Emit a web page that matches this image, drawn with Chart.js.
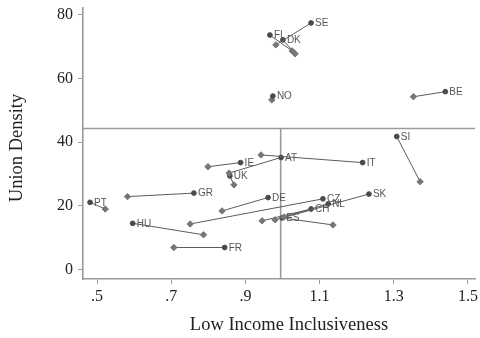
<!DOCTYPE html>
<html>
<head>
<meta charset="utf-8">
<script src="https://cdn.jsdelivr.net/npm/chart.js@4"></script>
<style>
    html, body { margin: 0; padding: 0; background: #fff; }
    #wrap { width: 480px; height: 338px; }
</style>
</head>
<body>
<div id="wrap"><canvas id="chart" width="480" height="338"></canvas></div>
<script>
// Countries, labelled at the later (round) point
const countries = ['SE', 'FI', 'DK', 'NO', 'BE', 'SI', 'IT', 'AT', 'IE', 'UK',
                   'GR', 'PT', 'DE', 'CZ', 'NL', 'SK', 'CH', 'ES', 'HU', 'FR'];

// Earlier observation (diamond markers)
const inclusivenessStart = [0.982, 1.026, 1.034, 0.971, 1.353, 1.371, 0.942, 0.856, 0.799, 0.869,
                            0.582, 0.522, 0.837, 0.751, 1.004, 0.980, 0.945, 1.136, 0.787, 0.707];
const densityStart = [70.6, 68.7, 67.8, 53.3, 54.3, 27.6, 36.0, 30.3, 32.3, 26.6,
                      22.9, 19.0, 18.4, 14.3, 16.5, 15.6, 15.3, 14.0, 10.9, 6.9];

// Later observation (round dots)
const inclusivenessEnd = [1.077, 0.966, 1.001, 0.974, 1.439, 1.308, 1.216, 0.996, 0.887, 0.858,
                          0.761, 0.481, 0.961, 1.109, 1.123, 1.233, 1.077, 0.999, 0.596, 0.844];
const densityEnd = [77.5, 73.7, 72.2, 54.5, 55.9, 41.8, 33.6, 35.2, 33.6, 29.4,
                    24.0, 21.1, 22.6, 22.2, 20.6, 23.7, 19.0, 16.2, 14.5, 6.9];

// Reference lines (quadrant cross)
const refInclusiveness = 0.995;
const refDensity = 44.3;

// Axis ticks
const xTicks = [0.5, 0.7, 0.9, 1.1, 1.3, 1.5];
const yTicks = [0, 20, 40, 60, 80];

const X_MIN = 0.462, X_MAX = 1.519;
const Y_MIN = -3.0, Y_MAX = 82.2;

const axisGray = '#9a9a9a';
const serif = "'Liberation Serif', 'DejaVu Serif', serif";

// Build one two-point dataset per country
const pairDatasets = countries.map((c, i) => ({
    label: c,
    data: [
        { x: inclusivenessStart[i], y: densityStart[i] },
        { x: inclusivenessEnd[i], y: densityEnd[i] }
    ],
    showLine: true,
    borderColor: '#5c5c5c',
    borderWidth: 1,
    pointStyle: ['rectRot', 'circle'],
    pointRadius: [3.2, 2.4],
    pointBackgroundColor: ['#767676', '#4a4a4a'],
    pointBorderColor: ['#767676', '#4a4a4a'],
    pointBorderWidth: 1,
    order: 1
}));

const refDatasets = [
    {
        label: 'ref-h',
        data: [{ x: X_MIN, y: refDensity }, { x: X_MAX, y: refDensity }],
        showLine: true,
        borderColor: axisGray,
        borderWidth: 1.6,
        pointRadius: 0,
        order: 10
    },
    {
        label: 'ref-v',
        data: [{ x: refInclusiveness, y: Y_MIN }, { x: refInclusiveness, y: refDensity }],
        showLine: true,
        borderColor: axisGray,
        borderWidth: 1.6,
        pointRadius: 0,
        order: 10
    }
];

// Country labels + axis titles
const labelPlugin = {
    id: 'countryLabels',
    afterDatasetsDraw(chart) {
        const ctx = chart.ctx;
        const xs = chart.scales.x;
        const ys = chart.scales.y;
        ctx.save();
        ctx.font = "10px 'Liberation Sans', Arial, sans-serif";
        ctx.fillStyle = '#555';
        ctx.textAlign = 'left';
        ctx.textBaseline = 'middle';
        countries.forEach((c, i) => {
            const px = xs.getPixelForValue(inclusivenessEnd[i]);
            const py = ys.getPixelForValue(densityEnd[i]);
            ctx.fillText(c, px + 4, py + 0.5);
        });

        // axis titles
        ctx.font = '18.5px ' + serif;
        ctx.fillStyle = '#222';
        ctx.textAlign = 'center';
        ctx.textBaseline = 'middle';
        ctx.fillText('Low Income Inclusiveness', 289, 325);
        ctx.translate(17, 148);
        ctx.rotate(-Math.PI / 2);
        ctx.fillText('Union Density', 0, 0);
        ctx.restore();
    }
};

new Chart(document.getElementById('chart'), {
    type: 'scatter',
    data: { datasets: refDatasets.concat(pairDatasets) },
    options: {
        responsive: false,
        animation: false,
        events: [],
        layout: { padding: { top: 8, right: 5, left: 0, bottom: 0 } },
        plugins: {
            legend: { display: false },
            tooltip: { enabled: false }
        },
        scales: {
            x: {
                type: 'linear',
                min: X_MIN,
                max: X_MAX,
                afterBuildTicks: function(scale) {
                    scale.ticks = xTicks.map(v => ({ value: v }));
                },
                afterFit: function(scale) {
                    scale.height = 59;
                    scale.paddingLeft = 0;
                    scale.paddingRight = 0;
                },
                ticks: {
                    autoSkip: false,
                    maxRotation: 0,
                    padding: 3,
                    color: '#222',
                    font: { family: serif, size: 16 },
                    callback: function(value) {
                        return value.toFixed(1).replace(/^0/, '');
                    }
                },
                grid: {
                    drawOnChartArea: false,
                    tickLength: 5,
                    color: axisGray,
                    lineWidth: 1
                },
                border: { color: axisGray, width: 1.6 }
            },
            y: {
                type: 'linear',
                min: Y_MIN,
                max: Y_MAX,
                afterBuildTicks: function(scale) {
                    scale.ticks = yTicks.map(v => ({ value: v }));
                },
                afterFit: function(scale) {
                    scale.width = 83;
                    scale.paddingTop = 0;
                    scale.paddingBottom = 0;
                },
                ticks: {
                    autoSkip: false,
                    padding: 5,
                    color: '#222',
                    font: { family: serif, size: 16 },
                    callback: function(value) {
                        return String(value);
                    }
                },
                grid: {
                    drawOnChartArea: false,
                    tickLength: 5,
                    color: axisGray,
                    lineWidth: 1
                },
                border: { color: axisGray, width: 1.6 }
            }
        }
    },
    plugins: [labelPlugin]
});
</script>
</body>
</html>
